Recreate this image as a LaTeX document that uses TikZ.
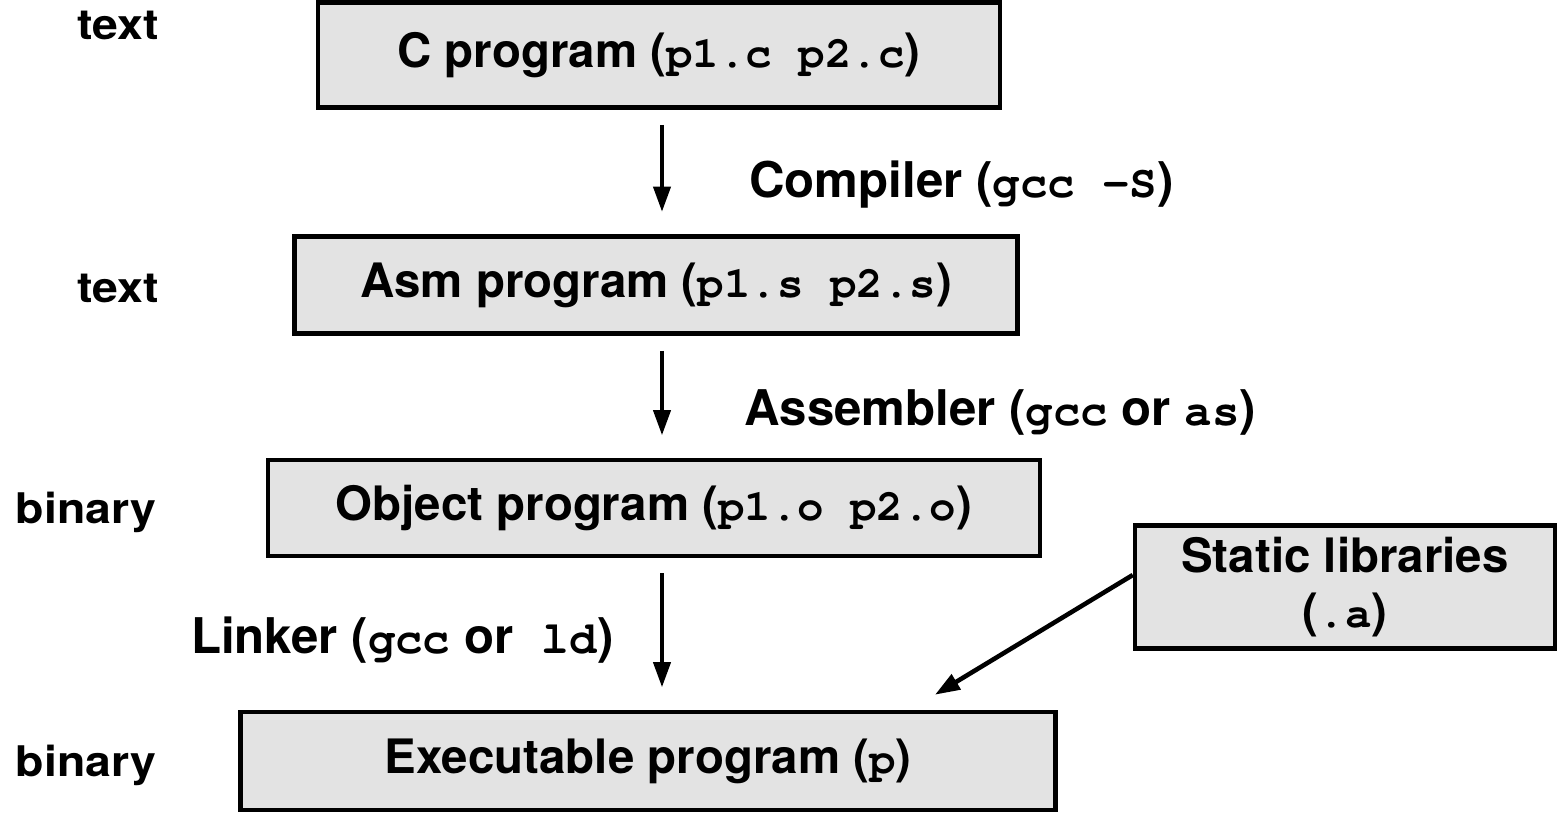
\documentclass[tikz,border=0pt]{standalone}
\usepackage{fontspec}
\setmainfont{TeX Gyre Heros}
\setmonofont{TeX Gyre Cursor}[Scale=0.93]
\usepackage{graphicx}
\usetikzlibrary{arrows.meta}
\definecolor{boxgray}{gray}{0.89}
\newcommand{\wide}[1]{\scalebox{1.1}[1]{#1}}

\begin{document}
\begin{tikzpicture}[x=0.02cm,y=-0.02cm,
    prog/.style={draw,line width=2.6pt,fill=boxgray,inner sep=0pt,
      font=\bfseries\fontsize{27}{32}\selectfont},
    kind/.style={font=\bfseries\fontsize{24}{28}\selectfont},
    tool/.style={font=\bfseries\fontsize{28}{33}\selectfont},
    flow/.style={line width=2.2pt,-{Triangle[length=0.5cm,width=0.34cm]},
      shorten <=0.3cm,shorten >=0.45cm}]
\useasboundingbox (0,0) rectangle (1563,812);
\coordinate (axis) at (662,0);
% the four stages of a build
\node[prog,minimum width=13.64cm,minimum height=2.1cm] (cprog) at (659,55)
    {C program (\texttt{p1.c p2.c})};
\node[prog,minimum width=14.46cm,minimum height=1.94cm] (asmprog) at (656,285)
    {Asm program (\texttt{p1.s p2.s})};
\node[prog,minimum width=15.44cm,minimum height=1.92cm] (objprog) at (654,508)
    {Object program (\texttt{p1.o p2.o})};
\node[prog,minimum width=16.3cm,minimum height=1.96cm] (exeprog) at (648,761)
    {Executable program (\texttt{p})};
\node[prog,minimum width=8.4cm,minimum height=2.46cm,align=center,
    font=\bfseries\fontsize{27}{31}\selectfont] (staticlib) at (1345,587)
    {Static libraries\\(\texttt{.a})};
% file kinds on the left
\node[kind] (kindc) at (118,25) {\wide{text}};
\node[kind] (kinds) at (118,288) {\wide{text}};
\node[kind] (kindo) at (86,512) {\wide{binary}};
\node[kind] (kindp) at (86,765) {\wide{binary}};
% tools
\node[tool,anchor=west] (compiler) at (743,185) {Compiler (\texttt{gcc -S})};
\node[tool,anchor=west] (assembler) at (738,412) {Assembler (\texttt{gcc} or \texttt{as})};
\node[tool,anchor=east] (linker) at (620,640) {Linker (\texttt{gcc} or\hspace{0.3cm} \texttt{ld})};
\draw[flow] (cprog.south -| axis) -- (asmprog.north -| axis);
\draw[flow] (asmprog.south -| axis) -- (objprog.north -| axis);
\draw[flow] (objprog.south -| axis) -- (exeprog.north -| axis);
\draw[flow,line width=2.6pt,shorten <=0pt,shorten >=0pt] ([yshift=0.24cm]staticlib.west)
    -- ([xshift=5.74cm,yshift=0.3cm]exeprog.north);
\end{tikzpicture}
\end{document}
